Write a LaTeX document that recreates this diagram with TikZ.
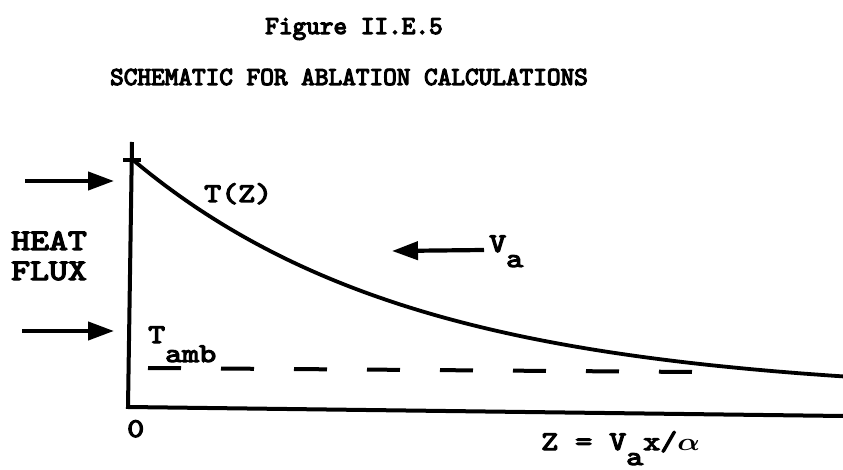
\documentclass[tikz,border=0pt]{standalone}
\usepackage{fontspec}
\usetikzlibrary{arrows.meta}
\newfontfamily\tw{lmmono10-regular}[Extension=.otf, FakeBold=4]
\newfontfamily\twh{lmmono10-regular}[Extension=.otf, FakeBold=4.5]
\newcommand{\wide}[1]{\scalebox{1.2}[1]{#1}}
\newcommand{\balpha}{{\boldmath$\alpha$}}
\tikzset{
  lbl/.style={font=\tw\fontsize{27}{30}\selectfont, inner sep=0pt, anchor=base west},
  biglbl/.style={font=\tw\fontsize{30}{33}\selectfont, inner sep=0pt, anchor=base west},
  ttl/.style={font=\twh\fontsize{26}{28}\selectfont, inner sep=0pt, anchor=base},
  axisline/.style={line width=4pt, line join=miter},
  curveline/.style={line width=3.8pt},
  fluxarrow/.style={line width=4.2pt, -{Triangle[length=26pt,width=18pt]}},
  ambline/.style={line width=4pt, dash pattern=on 33pt off 40pt},
}
\begin{document}
\begin{tikzpicture}[x=1pt,y=-1pt]
\useasboundingbox (0,0) rectangle (843,470);
% titles
\node[ttl] (fig) at (354,34) {Figure II.E.5};
\node[ttl] (title) at (349,85) {SCHEMATIC FOR ABLATION CALCULATIONS};
% axes
\coordinate (ytop) at (132,142);
\coordinate (origin) at (128,407);
\coordinate (xend) at (843,416);
\draw[axisline] (ytop) -- (origin) -- (xend);
\coordinate (tickL) at (123,160);
\coordinate (tickR) at (141,160);
\draw[line width=4pt] (tickL) -- (tickR);
% temperature curve
\draw[curveline] plot[domain=133:843, samples=80, smooth] (\x, {395-235*exp(-(\x-133)/280)});
% ambient dashed line
\coordinate (ambL) at (148,368);
\coordinate (ambR) at (695,372);
\draw[ambline] (ambL) -- (ambR);
% heat flux arrows
\coordinate (fa1s) at (25,181);
\coordinate (fa1e) at (114,181);
\coordinate (fa2s) at (22,331);
\coordinate (fa2e) at (114,331);
\draw[fluxarrow] (fa1s) -- (fa1e);
\draw[fluxarrow] (fa2s) -- (fa2e);
% velocity arrow
\coordinate (vas) at (484,250);
\coordinate (vae) at (392,251);
\draw[fluxarrow] (vas) -- (vae);
% labels
\node[biglbl] (heat) at (11,250) {\wide{HEAT}};
\node[biglbl] (flux) at (11,280) {\wide{FLUX}};
\node[lbl] (tz) at (204,202) {\wide{T(Z)}};
\node[lbl] (va) at (489,252) {\wide{V\raisebox{-15pt}{a}}};
\node[lbl] (tamb) at (148,343) {\wide{T\raisebox{-19pt}{amb}}};
\node[lbl] (zero) at (127,437) {\wide{0}};
\node[lbl] (zdef) at (541,450) {\wide{Z = V\raisebox{-15pt}{a}x/\balpha}};
\end{tikzpicture}
\end{document}
